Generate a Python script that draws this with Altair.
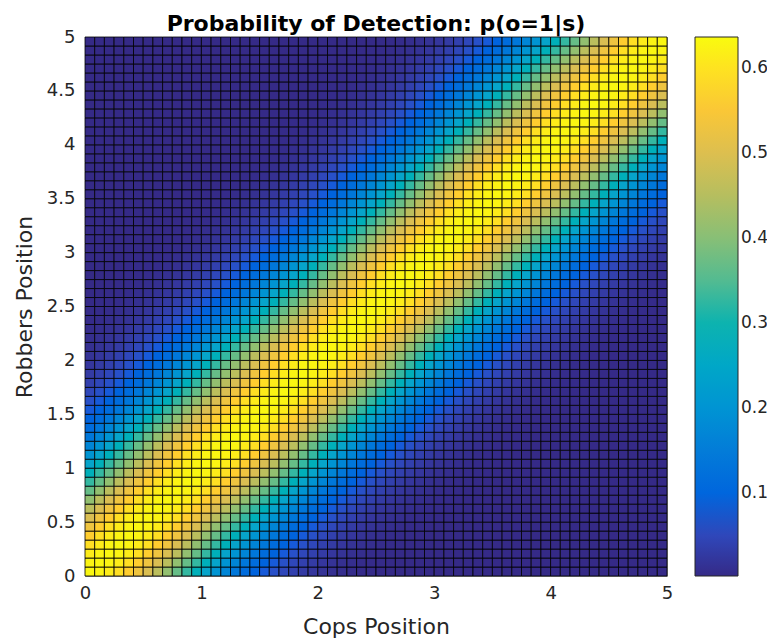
import altair as alt
import pandas as pd

# grid: 60 x 60 cells over [0, 5] on both axes
n_cells = 60
x_max = 5.0

profile = [
    0.630, 0.626, 0.613, 0.593, 0.565, 0.532, 0.495, 0.455, 0.412, 0.368,
    0.324, 0.282, 0.240, 0.202, 0.168, 0.138, 0.113, 0.094, 0.078, 0.063,
    0.050, 0.039, 0.030, 0.023, 0.017, 0.012, 0.009, 0.0065, 0.005, 0.004,
    0.0032, 0.0028, 0.0025, 0.0025, 0.0025, 0.0025, 0.0025, 0.0025, 0.0025, 0.0025,
    0.0025, 0.0025, 0.0025, 0.0025, 0.0025, 0.0025, 0.0025, 0.0025, 0.0025, 0.0025,
    0.0025, 0.0025, 0.0025, 0.0025, 0.0025, 0.0025, 0.0025, 0.0025, 0.0025, 0.0025,
]

x_ticks = [0, 1, 2, 3, 4, 5]
y_ticks = [0, 0.5, 1, 1.5, 2, 2.5, 3, 3.5, 4, 4.5, 5]
cbar_ticks = [0.1, 0.2, 0.3, 0.4, 0.5, 0.6]
c_min, c_max = 0.0025, 0.636

parula = ["#352a87", "#0f5cdd", "#1481d6", "#06a4ca", "#2eb7a4",
          "#87bf77", "#d1bb59", "#fec832", "#f9fb0e"]

h = x_max / n_cells
rows = []
for i in range(n_cells):
    for j in range(n_cells):
        rows.append({
            "c0": i * h, "c1": (i + 1) * h,
            "r0": j * h, "r1": (j + 1) * h,
            "p": profile[abs(i - j)],
        })
df = pd.DataFrame(rows)

stops = [c_min + (c_max - c_min) * k / (len(parula) - 1) for k in range(len(parula))]

FONT = "DejaVu Sans"
TXT = "#262626"

chart = alt.Chart(df).mark_rect(
    stroke="black", strokeWidth=1, strokeOpacity=0.8
).encode(
    x=alt.X("c0:Q", scale=alt.Scale(domain=[0, x_max], nice=False, zero=False),
            axis=alt.Axis(values=x_ticks, title="Cops Position", format="~g",
                          ticks=False, labelPadding=8, titlePadding=14,
                          labelFlush=False, grid=False, domain=False)),
    x2="c1:Q",
    y=alt.Y("r0:Q", scale=alt.Scale(domain=[0, x_max], nice=False, zero=False),
            axis=alt.Axis(values=y_ticks, title="Robbers Position", format="~g",
                          ticks=False, labelPadding=10, titlePadding=10,
                          labelFlush=False, grid=False, domain=False)),
    y2="r1:Q",
    color=alt.Color("p:Q",
                    scale=alt.Scale(domain=stops, range=parula),
                    legend=alt.Legend(title=None, direction="vertical",
                                      gradientLength=539, gradientThickness=43,
                                      offset=28, values=cbar_ticks, format="~g",
                                      labelOverlap=False, padding=0,
                                      gradientStrokeColor=TXT,
                                      gradientStrokeWidth=1,
                                      labelFontSize=17, labelFont=FONT,
                                      labelColor=TXT, labelOffset=3)),
).properties(
    width=582,
    height=539,
    title=alt.Title("Probability of Detection: p(o=1|s)", font=FONT,
                    fontSize=22, fontWeight="bold", color="#000000",
                    anchor="middle", offset=0, dy=8),
    autosize=alt.AutoSizeParams(type="none"),
    padding={"left": 85, "top": 37, "right": 100, "bottom": 64},
    background="white",
).configure_axis(
    labelFont=FONT, labelFontSize=18, labelColor=TXT,
    titleFont=FONT, titleFontSize=22, titleColor=TXT, titleFontWeight="normal",
).configure_view(
    stroke="#888888", strokeWidth=1
)

chart.save("out.html", embed_options={"renderer": "svg", "actions": False})
